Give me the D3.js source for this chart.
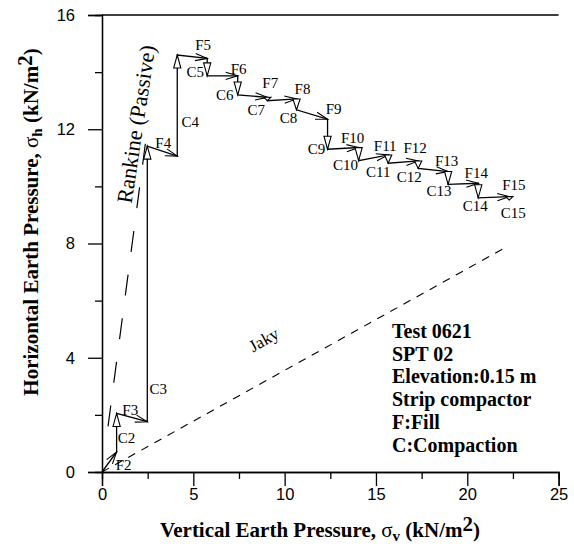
<!DOCTYPE html>
<html><head><meta charset="utf-8">
<script src="https://cdn.jsdelivr.net/npm/d3@7"></script>
<style>body{margin:0;background:#fff}svg{display:block}</style>
</head><body>
<svg id="c" width="574" height="550"></svg>
<script>
// ---- data ----
const stepNames = ["F2","C2","F3","C3","F4","C4","F5","C5","F6","C6","F7","C7","F8","C8","F9","C9","F10","C10","F11","C11","F12","C12","F13","C13","F14","C14","F15","C15"];
const sigmaV = [0, 0.8, 0.8, 2.48, 2.48, 4.12, 4.12, 5.76, 5.76, 7.43, 7.43, 9.05, 9.05, 10.65, 10.65, 12.35, 12.35, 14.05, 14.05, 15.67, 15.67, 17.31, 17.31, 18.95, 18.95, 20.6, 20.6, 22.3, 22.3];
const sigmaH = [0, 0.7, 2.05, 1.76, 11.41, 11.06, 14.6, 14.48, 13.87, 13.87, 13.2, 13.12, 13.0, 13.06, 12.68, 12.35, 11.3, 11.36, 10.9, 11.1, 10.81, 10.89, 10.63, 10.52, 10.07, 10.11, 9.6, 9.64, 9.52];
const rankineV = [0.33, 2.45];
const rankineH = [1.6, 11.86];
const jakyV = [0, 22.2];
const jakyH = [0, 7.9];
const xTicks = [0, 5, 10, 15, 20, 25];
const xMinor = [2.5, 7.5, 12.5, 17.5, 22.5];
const yTicks = [0, 4, 8, 12, 16];
const yMinor = [2, 6, 10, 14];
const legendLines = ["Test 0621", "SPT 02", "Elevation:0.15 m", "Strip compactor", "F:Fill", "C:Compaction"];

// ---- layout (pixel offsets of step labels from each step end) ----
const labelOffsets = [[7,13],[10,25],[-17,-12],[11,243],[-14,-13],[13,67],[-4,-13],[-12,-4],[1,-7],[-13,0],[3,-14],[-11,9],[6,-10],[-8,8.5],[6,-10],[-11,0],[-6,-10],[-13,4],[-3,-9],[-10,8.5],[-3,-13],[-9,9],[-1.5,-10.5],[-9,7],[-2,-10],[-3,8],[4.6,-11.6],[4,13]];

const svg = d3.select("#c");
const x = d3.scaleLinear().domain([0,25]).range([102, 558.6]);
const y = d3.scaleLinear().domain([0,16]).range([472, 15]);
const serif = "'Liberation Serif','Times New Roman',serif";
const sans = "'Liberation Sans',Arial,sans-serif";

// axes
svg.append("g").attr("transform", `translate(0,${y(0)})`)
  .call(d3.axisBottom(x).tickValues(xTicks).tickSize(14).tickPadding(2).tickFormat(d3.format("d")));
svg.append("g").attr("transform", `translate(0,${y(0)})`)
  .call(d3.axisBottom(x).tickValues(xMinor).tickSize(7).tickFormat(""));
svg.append("g").attr("transform", `translate(${x(0)},0)`)
  .call(d3.axisLeft(y).tickValues(yTicks).tickSize(14).tickPadding(13).tickFormat(d3.format("d")));
svg.append("g").attr("transform", `translate(${x(0)},0)`)
  .call(d3.axisLeft(y).tickValues(yMinor).tickSize(7).tickFormat(""));
svg.selectAll(".domain").attr("stroke","#000").attr("stroke-width",1.3);
svg.selectAll(".tick line").attr("stroke","#000").attr("stroke-width",1.3);
svg.selectAll(".tick text").attr("font-family", sans).attr("font-size", 16.5).attr("fill","#000");
// top border
svg.append("line").attr("x1", x(0)).attr("x2", x(25)).attr("y1", y(16)).attr("y2", y(16))
  .attr("stroke","#000").attr("stroke-width",1.3);

// reference lines
svg.append("line").attr("x1", x(rankineV[0])).attr("y1", y(rankineH[0]))
  .attr("x2", x(rankineV[1])).attr("y2", y(rankineH[1]))
  .attr("stroke","#000").attr("stroke-width",1.2).attr("stroke-dasharray","21,23");
svg.append("line").attr("x1", x(jakyV[0])).attr("y1", y(jakyH[0]))
  .attr("x2", x(jakyV[1])).attr("y2", y(jakyH[1]))
  .attr("stroke","#000").attr("stroke-width",1.1).attr("stroke-dasharray","8,7");

// stress path
const pts = sigmaV.map((v,i) => [x(v), y(sigmaH[i])]);
svg.append("path").attr("d", d3.line()(pts)).attr("fill","none").attr("stroke","#000").attr("stroke-width",1.3);

// arrowheads & labels
stepNames.forEach((name, i) => {
  const [x0,y0] = pts[i], [x1,y1] = pts[i+1];
  const dx = x1-x0, dy = y1-y0, L = Math.hypot(dx,dy);
  const ux = dx/L, uy = dy/L, nx = -uy, ny = ux;
  if (name[0] === "F") {
    const len = 12, w = 3.6;
    const d = `M${x1-ux*len+nx*w},${y1-uy*len+ny*w}L${x1},${y1}L${x1-ux*len-nx*w},${y1-uy*len-ny*w}`;
    svg.append("path").attr("d", d).attr("fill","none").attr("stroke","#000").attr("stroke-width",1.1);
  } else {
    const len = Math.min(13, L), w = 3.6;
    const d = `M${x1},${y1}L${x1-ux*len+nx*w},${y1-uy*len+ny*w}L${x1-ux*len-nx*w},${y1-uy*len-ny*w}Z`;
    svg.append("path").attr("d", d).attr("fill","#fff").attr("stroke","#000").attr("stroke-width",1.1);
  }
  const [ox, oy] = labelOffsets[i];
  svg.append("text").attr("x", x1+ox).attr("y", y1+oy).attr("text-anchor","middle")
    .attr("dominant-baseline","central").attr("font-family", serif).attr("font-size", 15)
    .text(name);
});

// line labels
svg.append("text").attr("transform", `translate(${136},${124}) rotate(-81.4)`)
  .attr("text-anchor","middle").attr("dominant-baseline","central")
  .attr("font-family", serif).attr("font-size", 22).text("Rankine (Passive)");
const jang = Math.atan2(y(jakyH[1])-y(0), x(jakyV[1])-x(0))*180/Math.PI;
svg.append("text").attr("transform", `translate(264,340) rotate(${jang})`)
  .attr("text-anchor","middle").attr("dominant-baseline","central")
  .attr("font-family", serif).attr("font-size", 17).text("Jaky");

// legend
const leg = svg.append("text").attr("font-family", serif).attr("font-weight","bold").attr("font-size", 20);
legendLines.forEach((t,i) => {
  leg.append("tspan").attr("x", 392).attr("y", 338 + i*22.7).text(t);
});

// axis titles
const xt = svg.append("text").attr("x", 320).attr("y", 537).attr("text-anchor","middle")
  .attr("font-family", serif).attr("font-weight","bold").attr("font-size", 21);
xt.append("tspan").text("Vertical Earth Pressure, ");
xt.append("tspan").attr("font-weight","normal").text("σ");
xt.append("tspan").attr("font-size", 15).attr("dy", 4).text("v");
xt.append("tspan").attr("dy", -4).text(" (kN/m");
xt.append("tspan").attr("dy", -6).text("2");
xt.append("tspan").attr("dy", 6).text(")");

const yt = svg.append("text").attr("transform", "translate(38,222) rotate(-90)").attr("text-anchor","middle")
  .attr("font-family", serif).attr("font-weight","bold").attr("font-size", 21);
yt.append("tspan").text("Horizontal Earth Pressure, ");
yt.append("tspan").attr("font-weight","normal").text("σ");
yt.append("tspan").attr("font-size", 15).attr("dy", 4).text("h");
yt.append("tspan").attr("dy", -4).text(" (kN/m");
yt.append("tspan").attr("dy", -6).text("2");
yt.append("tspan").attr("dy", 6).text(")");
</script>
</body></html>
